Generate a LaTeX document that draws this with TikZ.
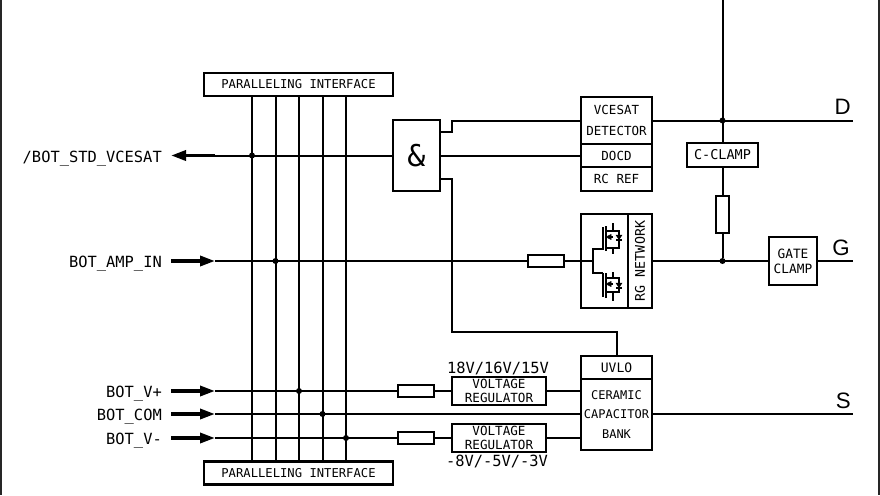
\documentclass[tikz,border=0pt]{standalone}
\usepackage{fontspec}
\usetikzlibrary{arrows.meta}
\setmainfont{Liberation Sans}
\newfontfamily\lblmono{DejaVu Sans Mono}
\newcommand{\fsz}[2]{\fontsize{#1pt}{#2pt}\selectfont\lblmono}
\tikzset{
  wire/.style={line width=2pt,line cap=butt},
  box/.style={draw=black,line width=2.2pt,fill=white,inner sep=0pt,outer sep=0pt,align=center,text=black},
  res/.style={box,font=\fsz{12}{14}},
  dot/.style={circle,fill=black,inner sep=0pt,outer sep=0pt,minimum size=6pt},
  pin/.style={line width=3.4pt,-{Triangle[length=15pt,width=10pt]}},
  pinout/.style={line width=3.4pt,{Triangle[length=15pt,width=10pt]}-},
  sig/.style={font=\fsz{15.4}{18},inner sep=0pt,anchor=base east},
  volt/.style={font=\fsz{15.4}{18},inner sep=0pt,anchor=base},
  term/.style={font=\fontsize{22.3pt}{24pt}\selectfont,inner sep=0pt,anchor=base east},
  frameline/.style={line width=2pt,draw=black!85},
  fet/.style={line width=1.4pt},
  fetbar/.style={line width=1.8pt},
  diodefill/.style={fill=black,draw=black,line width=0.5pt}
}
\begin{document}
\begin{tikzpicture}[x=1pt,y=-1pt]
\useasboundingbox (0,0) rectangle (880,495);
\fill[white] (0,0) rectangle (880,495);
% frame
\coordinate (fl1) at (1,0); \coordinate (fl2) at (1,495);
\coordinate (fr1) at (879,0); \coordinate (fr2) at (879,495);
\draw[frameline] (fl1)--(fl2);
\draw[frameline] (fr1)--(fr2);
% free ends
\coordinate (top) at (722.5,0);
\coordinate (dend) at (853,120.5);
\coordinate (gend) at (853,261);
\coordinate (send) at (853,414);
% interface boxes
\node[box,minimum width=189pt,minimum height=23pt,font=\fsz{12.2}{14}] (pt) at (298.5,84.5) {PARALLELING INTERFACE};
\node[box,minimum width=189pt,minimum height=23pt,font=\fsz{12.2}{14}] (pb) at (298.5,473) {PARALLELING INTERFACE};
% bus
\foreach \n/\x in {1/252,2/275.5,3/299,4/322.5,5/346}{
  \coordinate (bt\n) at (\x,96);
  \coordinate (bb\n) at (\x,461.5);
  \draw[wire] (bt\n)--(bb\n);
}
% pins
\coordinate (p1a) at (171,155.5); \coordinate (p1b) at (215,155.5);
\coordinate (p2a) at (171,261);   \coordinate (p2b) at (215,261);
\coordinate (p3a) at (171,391);   \coordinate (p3b) at (215,391);
\coordinate (p4a) at (171,414);   \coordinate (p4b) at (215,414);
\coordinate (p5a) at (171,438);   \coordinate (p5b) at (215,438);
\draw[pinout] (p1a)--(p1b);
\draw[pin] (p2a)--(p2b);
\draw[pin] (p3a)--(p3b);
\draw[pin] (p4a)--(p4b);
\draw[pin] (p5a)--(p5b);
\node[sig] (l1) at (162,162) {/BOT\_STD\_VCESAT};
\node[sig] (l2) at (162,267) {BOT\_AMP\_IN};
\node[sig] (l3) at (162,397) {BOT\_V+};
\node[sig] (l4) at (162,420) {BOT\_COM};
\node[sig] (l5) at (162,444) {BOT\_V-};
% and gate
\node[box,minimum width=47pt,minimum height=71pt,font=\fsz{30}{32}] (and) at (416.5,155.5) {\&};
\coordinate (andu) at (440,132);
\coordinate (andl) at (440,179);
% detector stack
\node[box,minimum width=71pt,minimum height=47pt,font=\fsz{12.5}{21}] (vce) at (616.5,120.5) {VCESAT\\DETECTOR};
\node[box,minimum width=71pt,minimum height=23pt,font=\fsz{12.5}{14}] (docd) at (616.5,155.5) {DOCD};
\node[box,minimum width=71pt,minimum height=24pt,font=\fsz{12.5}{14}] (rc) at (616.5,179) {RC REF};
% clamp
\node[box,minimum width=71pt,minimum height=24pt,font=\fsz{13.5}{14}] (cc) at (722.5,155) {C-CLAMP};
\node[res,minimum width=13pt,minimum height=37pt] (rv) at (722.5,214.5) {};
\node[box,minimum width=48pt,minimum height=48pt,font=\fsz{12.8}{15}] (gc) at (793,261) {GATE\\CLAMP};
% rg network
\node[box,minimum width=47pt,minimum height=94pt] (fetbox) at (604.5,261) {};
\node[box,minimum width=24pt,minimum height=94pt] (rg) at (640,261) {};
\node[font=\fsz{13.3}{14},rotate=90,inner sep=0pt] (rgt) at (640,261) {RG NETWORK};
\node[res,minimum width=36pt,minimum height=12pt] (rh) at (546,261) {};
% uvlo
\node[box,minimum width=71pt,minimum height=23pt,font=\fsz{13}{14}] (uvlo) at (616.5,367.5) {UVLO};
\node[box,minimum width=71pt,minimum height=71pt,font=\fsz{12}{19.5}] (cap) at (616.5,414.5) {CERAMIC\\CAPACITOR\\BANK};
% regulators
\node[box,minimum width=94pt,minimum height=28pt,font=\fsz{12.6}{14}] (vr1) at (499,391) {VOLTAGE\\REGULATOR};
\node[box,minimum width=94pt,minimum height=28pt,font=\fsz{12.6}{14}] (vr2) at (499,438) {VOLTAGE\\REGULATOR};
\node[res,minimum width=36pt,minimum height=12pt] (r1) at (416,391) {};
\node[res,minimum width=36pt,minimum height=12pt] (r2) at (416,438) {};
\node[volt] (v1) at (498,373) {18V/16V/15V};
\node[volt] (v2) at (497,466) {-8V/-5V/-3V};
% terminals
\node[term] (td) at (851,114) {D};
\node[term] (tg) at (850,255) {G};
\node[term] (ts) at (851,408) {S};
% junctions
\node[dot] (j1) at (252,155.5) {};
\node[dot] (j2) at (275.5,261) {};
\node[dot] (j3) at (299,391) {};
\node[dot] (j4) at (322.5,414) {};
\node[dot] (j5) at (346,438) {};
\node[dot] (j6) at (722.5,120.5) {};
\node[dot] (j7) at (722.5,261) {};
% connectors
\draw[wire] (p1b)--(and.west);
\draw[wire] (p2b)--(rh.west);
\draw[wire] (rh.east)--(fetbox.west);
\draw[wire] (p3b)--(r1.west);
\draw[wire] (r1.east)--(vr1.west);
\draw[wire] (vr1.east)--(vr1.east-|cap.west);
\draw[wire] (p4b)--(p4b-|cap.west);
\draw[wire] (cap.east|-p4b)--(send);
\draw[wire] (p5b)--(r2.west);
\draw[wire] (r2.east)--(vr2.west);
\draw[wire] (vr2.east)--(vr2.east-|cap.west);
\draw[wire] (andu)-|(452,120.5)--(vce.west);
\draw[wire] (andl)-|(452,332)-|(uvlo.north);
\draw[wire] (and.east)--(docd.west);
\draw[wire] (vce.east)--(dend);
\draw[wire] (top)--(cc.north);
\draw[wire] (cc.south)--(rv.north);
\draw[wire] (rv.south)--(j7);
\draw[wire] (rg.east)--(gc.west);
\draw[wire] (gc.east)--(gend);
% MOSFET pair
\coordinate (gs) at (581,261);
\draw[fet] (gs)--(593,261);
\draw[fet] (603,249)-|(593,273)--(603,273);
\begin{scope}[fet]
  % upper
  \draw[fetbar] (603,227)--(603,250);
  \draw[fetbar] (606,226)--(606,251);
  \draw (606,231)--(619,231)--(619,248)--(606,248);
  \draw (613,223)--(613,231);
  \draw (613,248)--(613,254);
  \draw (613,237)--(609,237);
  \draw[diodefill] (606,237)--(611,234.5)--(611,239.5)--cycle;
  \draw[diodefill] (616,235)--(622,235)--(619,239.5)--cycle;
  \draw (616,240)--(622,240);
  % lower
  \draw[fetbar] (603,273)--(603,297);
  \draw[fetbar] (606,273)--(606,298);
  \draw (606,278)--(619,278)--(619,292)--(606,292);
  \draw (613,272)--(613,278);
  \draw (613,292)--(613,301);
  \draw (613,284)--(609,284);
  \draw[diodefill] (606,284)--(611,281.5)--(611,286.5)--cycle;
  \draw[diodefill] (616,283)--(622,283)--(619,287.5)--cycle;
  \draw (616,288)--(622,288);
\end{scope}
\end{tikzpicture}
\end{document}
